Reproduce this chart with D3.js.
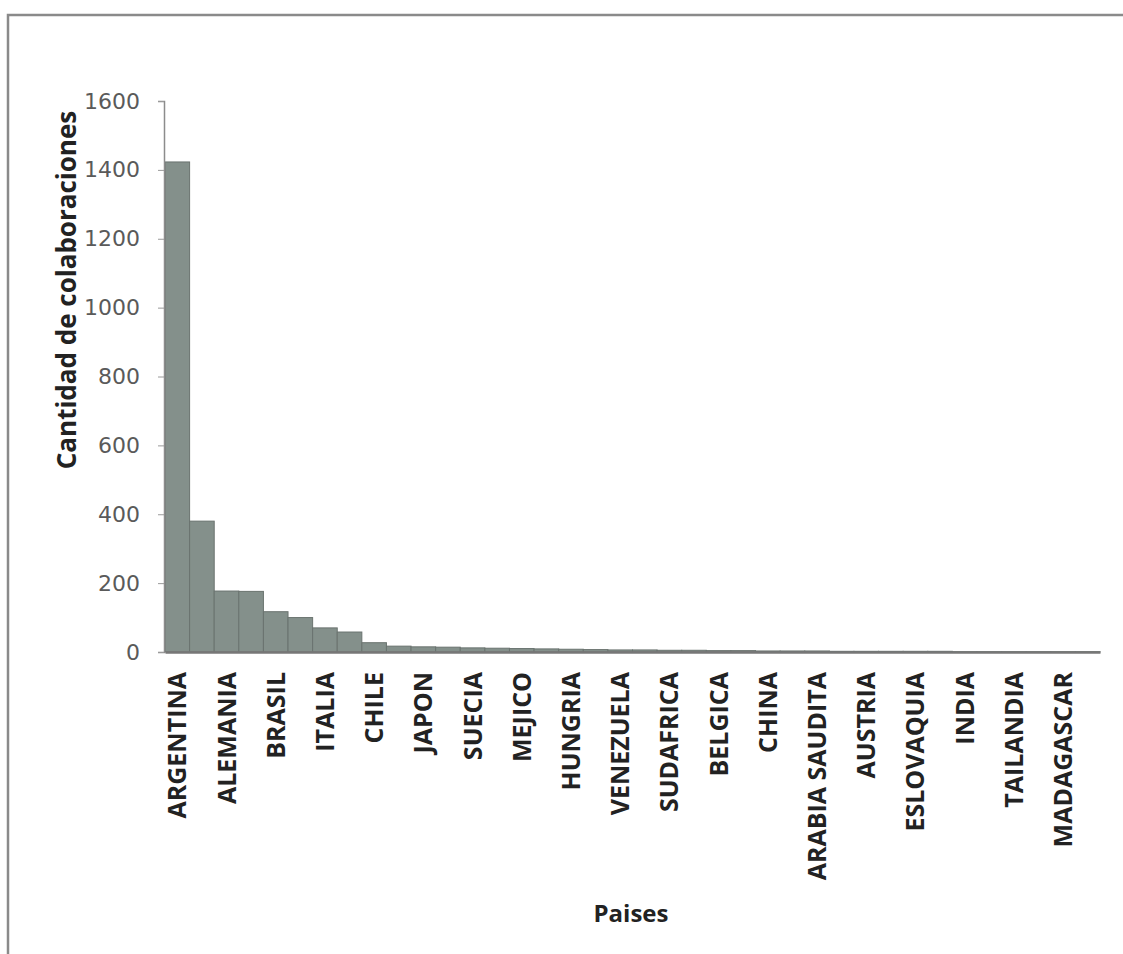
<!DOCTYPE html>
<html><head><meta charset="utf-8">
<script src="https://cdn.jsdelivr.net/npm/d3@7"></script>
<style>body{margin:0;background:#fff}svg{display:block}</style>
</head><body>
<svg id="c" width="1123" height="954"></svg>
<script>
const countries = ["ARGENTINA","ESPAÑA","ALEMANIA","EEUU","BRASIL","FRANCIA","ITALIA","URUGUAY","CHILE","REINO UNIDO",
 "JAPON","CANADA","SUECIA","COLOMBIA","MEJICO","PERU","HUNGRIA","CUBA","VENEZUELA","HOLANDA",
 "SUDAFRICA","RUSIA","BELGICA","ISRAEL","CHINA","DINAMARCA","ARABIA SAUDITA","AUSTRALIA","AUSTRIA","POLONIA",
 "ESLOVAQUIA","SUIZA","INDIA","PORTUGAL","TAILANDIA","NORUEGA","MADAGASCAR","ECUADOR"];
const colaboraciones = [1423,380,177,176,117,100,70,58,27,17,
 15,14,12,11,10,9,8,7,6,6,
 5,5,4,4,3,3,3,2,2,2,
 2,2,1,1,1,1,1,1];
const yTicks = [0,200,400,600,800,1000,1200,1400,1600];
const yTitle = "Cantidad de colaboraciones";
const xTitle = "Paises";

const svg = d3.select("#c");
// outer frame
svg.append("path").attr("d","M8,954 V15 H1123").attr("fill","none").attr("stroke","#8a8a8a").attr("stroke-width",2.5);

const x = d3.scaleBand().domain(countries).range([165,1100]).padding(0);
const y = d3.scaleLinear().domain([0,1600]).range([652,101]);

svg.append("g").selectAll("rect").data(countries).join("rect")
  .attr("x", d=>x(d)).attr("width", x.bandwidth())
  .attr("y", (d,i)=>y(colaboraciones[i]))
  .attr("height", (d,i)=>y(0)-y(colaboraciones[i]))
  .attr("fill","#84908b").attr("stroke","#6a736f").attr("stroke-width",1);

// y axis
const ya = svg.append("g").attr("transform","translate(164,0)")
  .call(d3.axisLeft(y).tickValues(yTicks).tickSize(6).tickPadding(18).tickFormat(d3.format("d")));
ya.select(".domain").attr("stroke","#8c8c8c").attr("stroke-width",1.5);
ya.selectAll(".tick line").attr("stroke","#9a9a9a");
ya.selectAll(".tick text").attr("fill","#5a5a5a").attr("font-family","DejaVu Sans").attr("font-size",22);

// x axis
const xa = svg.append("g").attr("transform","translate(0,652)")
  .call(d3.axisBottom(x).tickSize(0).tickFormat((d,i)=> i%2===0 ? d : ""));
xa.select(".domain").attr("stroke","#777").attr("stroke-width",2.5);
xa.selectAll(".tick text")
  .attr("font-family","Open Sans").attr("font-weight",700).attr("font-size",25).attr("fill","#222")
  .attr("transform","rotate(-90)").attr("text-anchor","end")
  .attr("x",-20).attr("y",0).attr("dy","0.36em");

svg.append("text").attr("transform","translate(76,290) rotate(-90)").attr("text-anchor","middle")
  .attr("font-family","Open Sans").attr("font-weight",700).attr("font-size",26).attr("fill","#222").text(yTitle);
svg.append("text").attr("x",631).attr("y",922).attr("text-anchor","middle")
  .attr("font-family","Open Sans").attr("font-weight",700).attr("font-size",24).attr("fill","#222").text(xTitle);
</script>
</body></html>
